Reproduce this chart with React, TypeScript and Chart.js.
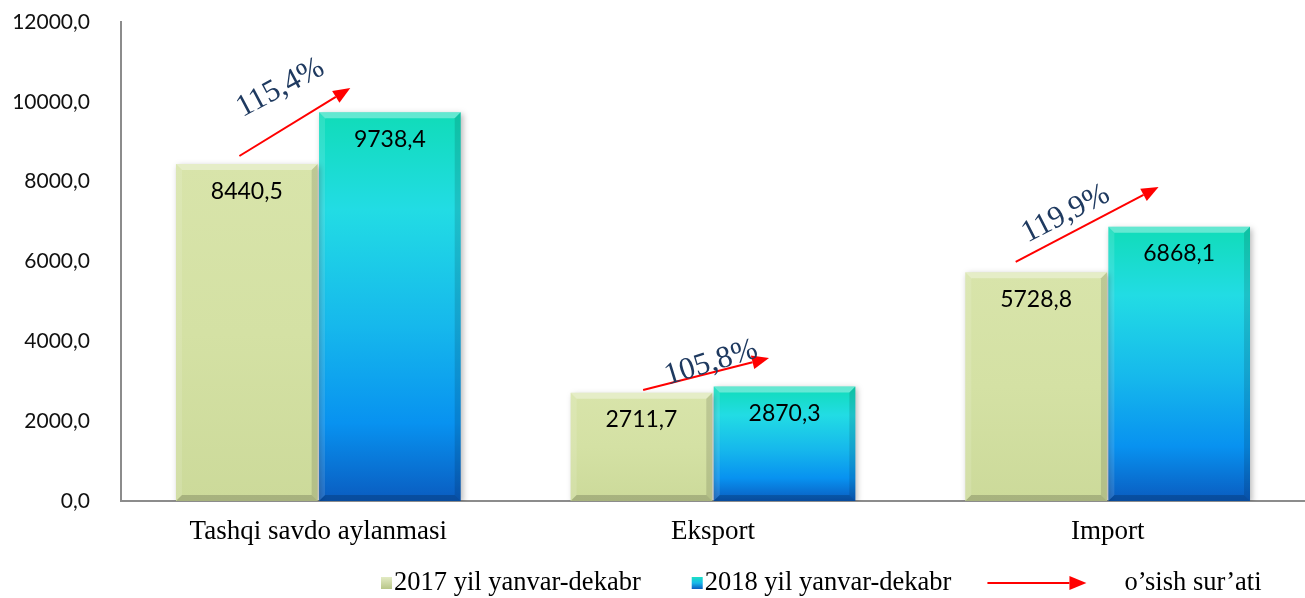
import React, { useEffect, useRef } from "react";
import { Chart, registerables } from "chart.js";

Chart.register(...registerables);

const categories = ["Tashqi savdo aylanmasi", "Eksport", "Import"];
const values2017 = [8440.5, 2711.7, 5728.8];
const values2018 = [9738.4, 2870.3, 6868.1];
const growthLabels = ["115,4%", "105,8%", "119,9%"];
const seriesNames = ["2017 yil yanvar-dekabr", "2018 yil yanvar-dekabr"];
const growthLegend = "o’sish sur’ati";
const yTicksMax = 12000;
const yTicksStep = 2000;

// annotation placement (category offset in category widths, value in data units)
const ARROW_LAYOUT = [
  { sx: -0.2, sv: 8643, ex: 0.081, ev: 10347, tx: -0.096, tv: 10346, angle: -28 },
  { sx: -0.177, sv: 2781, ex: 0.142, ev: 3583, tx: -0.005, tv: 3457, angle: -17 },
  { sx: -0.233, sv: 5988, ex: 0.129, ev: 7866, tx: -0.106, tv: 7190, angle: -27 },
];

const fmt = (v: number) => v.toFixed(1).replace(".", ",");

function drawArrow(ctx: CanvasRenderingContext2D, x1: number, y1: number, x2: number, y2: number) {
  const ang = Math.atan2(y2 - y1, x2 - x1);
  const headLen = 17;
  const headW = 7;
  const bx = x2 - headLen * Math.cos(ang);
  const by = y2 - headLen * Math.sin(ang);
  ctx.save();
  ctx.strokeStyle = "#FF0000";
  ctx.fillStyle = "#FF0000";
  ctx.lineWidth = 2;
  ctx.beginPath();
  ctx.moveTo(x1, y1);
  ctx.lineTo(bx, by);
  ctx.stroke();
  ctx.beginPath();
  ctx.moveTo(x2, y2);
  ctx.lineTo(bx + headW * Math.sin(ang), by - headW * Math.cos(ang));
  ctx.lineTo(bx - headW * Math.sin(ang), by + headW * Math.cos(ang));
  ctx.closePath();
  ctx.fill();
  ctx.restore();
}

const decorPlugin = {
  id: "decor",
  beforeDatasetsDraw(chart: any) {
    const ctx = chart.ctx;
    ctx.save();
    ctx.shadowColor = "rgba(0,0,0,0.28)";
    ctx.shadowBlur = 6;
    ctx.shadowOffsetX = 2;
    ctx.shadowOffsetY = 2;
  },
  afterDatasetsDraw(chart: any) {
    const ctx = chart.ctx as CanvasRenderingContext2D;
    ctx.restore();
    chart.data.datasets.forEach((_: any, di: number) => {
      const meta = chart.getDatasetMeta(di);
      meta.data.forEach((el: any) => {
        const { x, y, base, width } = el.getProps(["x", "y", "base", "width"], true);
        const l = x - width / 2;
        const r = x + width / 2;
        const b = 6;
        ctx.save();
        ctx.fillStyle = "rgba(255,255,255,0.35)";
        ctx.beginPath();
        ctx.moveTo(l, y);
        ctx.lineTo(r, y);
        ctx.lineTo(r - b, y + b);
        ctx.lineTo(l + b, y + b);
        ctx.closePath();
        ctx.fill();
        ctx.fillStyle = "rgba(255,255,255,0.12)";
        ctx.beginPath();
        ctx.moveTo(l, y);
        ctx.lineTo(l + b, y + b);
        ctx.lineTo(l + b, base - b);
        ctx.lineTo(l, base);
        ctx.closePath();
        ctx.fill();
        ctx.fillStyle = "rgba(0,0,0,0.12)";
        ctx.beginPath();
        ctx.moveTo(r, y);
        ctx.lineTo(r - b, y + b);
        ctx.lineTo(r - b, base - b);
        ctx.lineTo(r, base);
        ctx.closePath();
        ctx.fill();
        ctx.fillStyle = "rgba(0,0,0,0.18)";
        ctx.beginPath();
        ctx.moveTo(l, base);
        ctx.lineTo(l + b, base - b);
        ctx.lineTo(r - b, base - b);
        ctx.lineTo(r, base);
        ctx.closePath();
        ctx.fill();
        ctx.restore();
      });
    });
    ctx.save();
    ctx.font = "23px Lato";
    ctx.fillStyle = "#000";
    ctx.textAlign = "center";
    ctx.textBaseline = "middle";
    chart.data.datasets.forEach((ds: any, di: number) => {
      const meta = chart.getDatasetMeta(di);
      meta.data.forEach((el: any, i: number) => {
        const { x, y } = el.getProps(["x", "y"], true);
        ctx.fillText(fmt(ds.data[i]), x, y + 27);
      });
    });
    ctx.restore();
  },
  afterDraw(chart: any) {
    const ctx = chart.ctx as CanvasRenderingContext2D;
    const xs = chart.scales.x;
    const ys = chart.scales.y;
    const catW = xs.getPixelForValue(1) - xs.getPixelForValue(0);
    ARROW_LAYOUT.forEach((a, i) => {
      const cx = xs.getPixelForValue(i);
      drawArrow(
        ctx,
        cx + a.sx * catW,
        ys.getPixelForValue(a.sv),
        cx + a.ex * catW,
        ys.getPixelForValue(a.ev)
      );
      ctx.save();
      ctx.translate(cx + a.tx * catW, ys.getPixelForValue(a.tv));
      ctx.rotate((a.angle * Math.PI) / 180);
      ctx.font = "31px 'Liberation Serif'";
      ctx.fillStyle = "#1F3A60";
      ctx.textAlign = "center";
      ctx.textBaseline = "middle";
      ctx.fillText(growthLabels[i], 0, 0);
      ctx.restore();
    });

    // legend
    const ly = 583;
    ctx.save();
    ctx.font = "26.5px 'Liberation Serif'";
    ctx.textBaseline = "middle";
    ctx.textAlign = "left";
    ctx.fillStyle = "#000";
    let x = 381;
    seriesNames.forEach((name, i) => {
      const g = ctx.createLinearGradient(0, ly - 6, 0, ly + 6);
      if (i === 0) {
        g.addColorStop(0, "#E3EBC4");
        g.addColorStop(1, "#B8C688");
      } else {
        g.addColorStop(0, "#1CE0C4");
        g.addColorStop(0.5, "#18B8EA");
        g.addColorStop(1, "#0A5CC0");
      }
      ctx.fillStyle = g;
      ctx.fillRect(x, ly - 6, 11, 12);
      ctx.fillStyle = "#000";
      ctx.fillText(name, x + 13, ly);
      x += 13 + ctx.measureText(name).width + 51;
    });
    x -= 15;
    drawArrow(ctx, x, ly, x + 99, ly);
    x += 99 + 38;
    ctx.fillStyle = "#000";
    ctx.fillText(growthLegend, x, ly);
    ctx.restore();
  },
};

function teal(ctx: any) {
  const chart = ctx.chart;
  const scales = chart.scales;
  if (!chart.chartArea || !scales || !scales.y || ctx.raw === undefined) return "#18C0E8";
  const top = scales.y.getPixelForValue(ctx.raw);
  const bottom = scales.y.getPixelForValue(0);
  if (!isFinite(top) || !isFinite(bottom)) return "#18C0E8";
  const g = chart.ctx.createLinearGradient(0, top, 0, bottom);
  g.addColorStop(0, "#10DCB8");
  g.addColorStop(0.25, "#22DCE4");
  g.addColorStop(0.55, "#16B8EC");
  g.addColorStop(0.8, "#0892F0");
  g.addColorStop(1, "#0A5CC0");
  return g;
}

function olive(ctx: any) {
  const chart = ctx.chart;
  const scales = chart.scales;
  if (!chart.chartArea || !scales || !scales.y || ctx.raw === undefined) return "#D4E0A6";
  const top = scales.y.getPixelForValue(ctx.raw);
  const bottom = scales.y.getPixelForValue(0);
  if (!isFinite(top) || !isFinite(bottom)) return "#D4E0A6";
  const g = chart.ctx.createLinearGradient(0, top, 0, bottom);
  g.addColorStop(0, "#D8E4AA");
  g.addColorStop(0.5, "#D4E1A4");
  g.addColorStop(1, "#CCDA9A");
  return g;
}

export default function App() {
  const ref = useRef<HTMLCanvasElement | null>(null);
  useEffect(() => {
    if (!ref.current) return;
    const chart = new Chart(ref.current, {
      type: "bar",
      data: {
        labels: categories,
        datasets: [
          {
            label: seriesNames[0],
            data: values2017,
            backgroundColor: olive as any,
            borderWidth: 0,
            barPercentage: 0.99,
            categoryPercentage: 0.725,
          },
          {
            label: seriesNames[1],
            data: values2018,
            backgroundColor: teal as any,
            borderWidth: 0,
            barPercentage: 0.99,
            categoryPercentage: 0.725,
          },
        ],
      },
      options: {
        animation: false,
        responsive: false,
        maintainAspectRatio: false,
        layout: { padding: { top: 22, right: 0, bottom: 0, left: 0 } },
        plugins: {
          legend: { display: false },
          tooltip: { enabled: false },
          title: { display: false },
        },
        scales: {
          x: {
            grid: { display: false, drawTicks: false },
            border: { display: true, color: "#8C8C8C", width: 2 },
            ticks: {
              color: "#000",
              font: { family: "'Liberation Serif'", size: 27 },
              padding: 15,
              maxRotation: 0,
            },
            afterFit: (s: any) => {
              s.height = 97;
              s.paddingLeft = 0;
              s.paddingRight = 0;
            },
          },
          y: {
            min: 0,
            max: yTicksMax,
            grid: { display: false, drawTicks: false },
            border: { display: true, color: "#8C8C8C", width: 2 },
            ticks: {
              stepSize: yTicksStep,
              color: "#111",
              font: { family: "Lato", size: 21 },
              padding: 31,
              callback: (v: any) => fmt(Number(v)),
            },
            afterFit: (s: any) => {
              s.width = 121;
              s.paddingTop = 0;
              s.paddingBottom = 0;
            },
          },
        },
      },
      plugins: [decorPlugin],
    });
    return () => chart.destroy();
  }, []);
  return (
    <div style={{ position: "fixed", left: 0, top: 0, width: 1305, height: 598, background: "#fff" }}>
      <canvas ref={ref} width={1305} height={598} style={{ width: 1305, height: 598 }} />
    </div>
  );
}
